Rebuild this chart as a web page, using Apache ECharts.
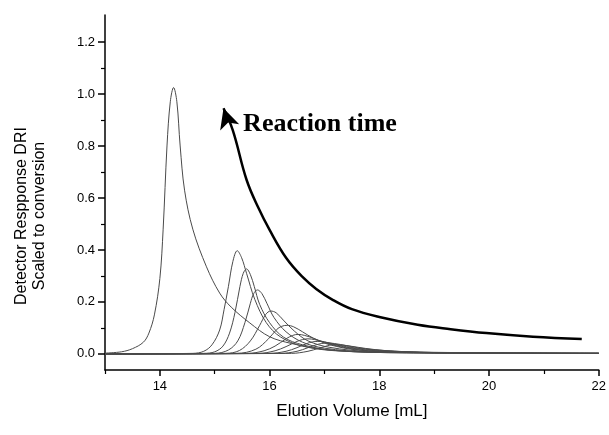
<!DOCTYPE html>
<html><head><meta charset="utf-8">
<script src="https://cdn.jsdelivr.net/npm/echarts@6/dist/echarts.min.js"></script>
<style>html,body{margin:0;padding:0;background:#fff}#c{width:609px;height:435px}</style>
</head><body><div id="c"></div>
<script>
// Data (x = elution volume mL, y = detector response)
const xMajorTicks = [14, 16, 18, 20, 22];
const xMinorTicks = [13, 15, 17, 19, 21];
const yMajorTicks = [0, 0.2, 0.4, 0.6, 0.8, 1.0, 1.2];
const yMinorTicks = [-0.1, 0.1, 0.3, 0.5, 0.7, 0.9, 1.1];

const curveA = [[13,0.003],[13.3,0.008],[13.5,0.02],[13.7,0.045],[13.8,0.08],[13.9,0.15],[14.0,0.29],[14.06,0.48],[14.13,0.8],[14.19,0.97],[14.25,1.025],[14.31,0.97],[14.37,0.8],[14.45,0.63],[14.6,0.48],[14.85,0.335],[15.09,0.234],[15.3,0.18],[15.64,0.119],[16.0,0.066],[16.4,0.04],[17.0,0.017],[18.0,0.006],[22,0.002]];
const curveB = [[13,0],[14.6,0.002],[14.8,0.01],[14.95,0.035],[15.09,0.092],[15.17,0.17],[15.25,0.26],[15.33,0.355],[15.41,0.397],[15.49,0.37],[15.58,0.31],[15.73,0.21],[15.94,0.12],[16.2,0.065],[16.6,0.03],[17.2,0.012],[18.5,0.004],[22,0.002]];
const curveC = [[13,0],[14.8,0.002],[15.0,0.008],[15.15,0.03],[15.27,0.08],[15.37,0.16],[15.46,0.26],[15.52,0.31],[15.58,0.327],[15.65,0.305],[15.72,0.26],[15.82,0.19],[16.0,0.12],[16.25,0.065],[16.6,0.035],[17.2,0.013],[18.5,0.004],[22,0.002]];
const curveD = [[13,0],[15.0,0.002],[15.25,0.015],[15.42,0.05],[15.55,0.12],[15.65,0.195],[15.71,0.232],[15.78,0.246],[15.86,0.232],[15.95,0.195],[16.08,0.14],[16.3,0.085],[16.6,0.045],[17.0,0.022],[17.8,0.008],[22,0.002]];
const curveE = [[13,0],[15.2,0.002],[15.45,0.013],[15.65,0.05],[15.82,0.11],[15.93,0.152],[16.02,0.165],[16.12,0.158],[16.25,0.13],[16.45,0.088],[16.7,0.05],[17.1,0.025],[17.8,0.01],[22,0.002]];
const curveF = [[13,0],[15.4,0.002],[15.75,0.018],[15.98,0.058],[16.13,0.094],[16.22,0.106],[16.32,0.11],[16.44,0.104],[16.6,0.085],[16.8,0.06],[17.1,0.035],[17.6,0.015],[18.5,0.006],[22,0.002]];
const curveG = [[13,0],[15.6,0.002],[15.9,0.012],[16.1,0.03],[16.3,0.058],[16.42,0.071],[16.52,0.075],[16.64,0.071],[16.8,0.06],[17.0,0.044],[17.3,0.027],[17.8,0.012],[18.6,0.005],[22,0.002]];
const curveH = [[13,0],[15.8,0.002],[16.1,0.012],[16.3,0.028],[16.5,0.048],[16.6,0.055],[16.7,0.058],[16.82,0.055],[17.0,0.046],[17.2,0.035],[17.5,0.022],[18.0,0.011],[18.8,0.005],[22,0.002]];
const curveI = [[13,0],[16.0,0.002],[16.3,0.01],[16.5,0.024],[16.68,0.04],[16.78,0.046],[16.88,0.048],[17.0,0.046],[17.2,0.037],[17.4,0.028],[17.7,0.019],[18.3,0.009],[19.2,0.004],[22,0.002]];
const curveJ = [[13,0],[16.2,0.002],[16.5,0.01],[16.7,0.024],[16.85,0.035],[16.95,0.04],[17.05,0.042],[17.18,0.04],[17.4,0.032],[17.6,0.024],[17.9,0.016],[18.5,0.008],[19.5,0.004],[22,0.002]];
const curveK = [[13,0],[16.4,0.002],[16.7,0.01],[16.9,0.022],[17.05,0.031],[17.12,0.035],[17.2,0.036],[17.32,0.034],[17.5,0.029],[17.75,0.021],[18.1,0.013],[18.8,0.006],[20,0.003],[22,0.002]];
const arrowCurve = [[15.16,0.945],[15.33,0.86],[15.58,0.67],[15.8,0.56],[16.0,0.477],[16.3,0.37],[16.6,0.296],[16.85,0.25],[17.15,0.208],[17.5,0.172],[18.0,0.142],[18.7,0.112],[19.3,0.095],[19.95,0.08],[20.8,0.066],[21.69,0.057]];
const annotationText = 'Reaction time';
const xTitle = 'Elution Volume [mL]';
const yTitle = 'Detector Respponse DRI\nScaled to conversion';

const curves = [curveA, curveB, curveC, curveD, curveE, curveF, curveG, curveH, curveI, curveJ, curveK];
const axisFont = {fontFamily: 'Liberation Sans, Arial, sans-serif', fontSize: 13, color: '#000'};

const chart = echarts.init(document.getElementById('c'), null, {renderer: 'canvas'});
const series = curves.map(d => ({
  type: 'line', data: d, smooth: 0.35, showSymbol: false, symbol: 'none',
  lineStyle: {color: '#4a4a4a', width: 1}, xAxisIndex: 0, yAxisIndex: 0, silent: true, z: 2
}));
series.push({
  type: 'line', xAxisIndex: 0, yAxisIndex: 0, smooth: 0.4, silent: true, z: 3,
  data: arrowCurve.map((p, i) => i === 0 ? {value: p, symbol: 'arrow', symbolSize: [15, 20], symbolRotate: 18} : {value: p, symbol: 'none'}),
  showSymbol: true, showAllSymbol: true,
  itemStyle: {color: '#000'}, lineStyle: {color: '#000', width: 2.5}
});

chart.setOption({
  animation: false,
  grid: {left: 105, right: 9, top: 15, bottom: 65},
  xAxis: [{
    type: 'value', min: 13, max: 22, interval: 1, position: 'bottom',
    name: xTitle, nameLocation: 'middle', nameGap: 33,
    nameTextStyle: {fontFamily: 'Liberation Sans, Arial, sans-serif', fontSize: 17, color: '#000'},
    axisLine: {show: true, onZero: false, lineStyle: {color: '#000', width: 1.5}},
    axisTick: {show: true, inside: false, length: 6, customValues: xMajorTicks, lineStyle: {color: '#000', width: 1.5}},
    axisLabel: Object.assign({customValues: xMajorTicks, margin: 10}, axisFont),
    splitLine: {show: false}
  }, {
    type: 'value', min: 13, max: 22, position: 'bottom', gridIndex: 0,
    axisLine: {show: false, onZero: false}, axisLabel: {show: false}, splitLine: {show: false},
    axisTick: {show: true, length: 4, customValues: xMinorTicks, lineStyle: {color: '#000', width: 1.2}}
  }],
  yAxis: [{
    type: 'value', min: -0.062, max: 1.304,
    axisLine: {show: true, onZero: false, lineStyle: {color: '#000', width: 1.5}},
    axisTick: {show: true, length: 7, customValues: yMajorTicks, lineStyle: {color: '#000', width: 1.5}},
    axisLabel: Object.assign({customValues: yMajorTicks, margin: 10, formatter: v => v.toFixed(1)}, axisFont),
    splitLine: {show: false}
  }, {
    type: 'value', min: -0.062, max: 1.304, position: 'left', gridIndex: 0,
    axisLine: {show: false, onZero: false}, axisLabel: {show: false}, splitLine: {show: false},
    axisTick: {show: true, length: 4, customValues: yMinorTicks, lineStyle: {color: '#000', width: 1.2}}
  }],
  series: series,
  graphic: [{
    type: 'text', x: 31, y: 216, rotation: Math.PI / 2,
    style: {text: yTitle, fontFamily: 'Liberation Sans, Arial, sans-serif', fontSize: 16, lineHeight: 18,
      fill: '#000', align: 'center', verticalAlign: 'middle'}
  }, {
    type: 'text', x: 320, y: 124,
    style: {text: annotationText, fontFamily: 'Liberation Serif, Times New Roman, serif', fontWeight: 'bold',
      fontSize: 26, fill: '#000', align: 'center', verticalAlign: 'middle'}
  }]
});
</script></body></html>
